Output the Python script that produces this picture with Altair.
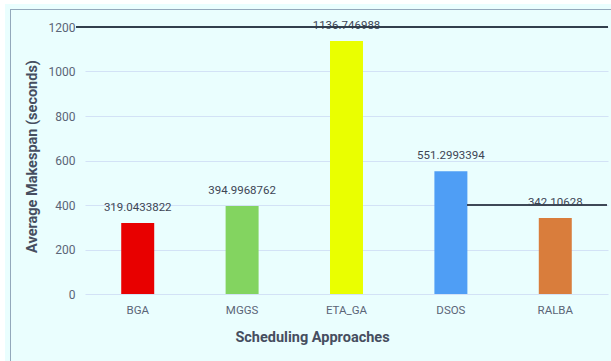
import altair as alt
import pandas as pd

# Average makespan per scheduling approach
approaches = ["BGA", "MGGS", "ETA_GA", "DSOS", "RALBA"]
makespan = [319.0433822, 394.9968762, 1136.746988, 551.2993394, 342.10628]
labels = ["319.0433822", "394.9968762", "1136.746988", "551.2993394", "342.10628"]
bar_colors = ["#e80000", "#83d460", "#eaff00", "#4f9ef5", "#d97d3c"]

y_ticks = [0, 200, 400, 600, 800, 1000, 1200]

FONT = "Roboto, sans-serif"

df = pd.DataFrame({"approach": approaches, "makespan": makespan, "label": labels})

x_enc = alt.X(
    "approach:N",
    sort=approaches,
    scale=alt.Scale(paddingInner=0.684, paddingOuter=0.347),
    axis=alt.Axis(
        title="Scheduling Approaches",
        labelAngle=0,
        labelFontSize=11.5,
        labelColor="#5b6577",
        labelPadding=10,
        ticks=False,
        domain=False,
        grid=False,
        titleFontSize=14.5,
        titleFontWeight="bold",
        titleColor="#464e60",
        titleX=227,
        titleY=43,
        titleBaseline="middle",
    ),
)
y_enc = alt.Y(
    "makespan:Q",
    scale=alt.Scale(domain=[0, 1200], nice=False),
    axis=alt.Axis(
        title="Average Makespan (seconds)",
        values=y_ticks,
        format="d",
        labelFontSize=12,
        labelColor="#5b6577",
        labelPadding=10,
        ticks=False,
        domain=False,
        gridColor="#d3e2f6",
        gridWidth=1,
        titleFontSize=14.5,
        titleFontWeight="bold",
        titleColor="#464e60",
        titleX=-53,
        titleY=129,
        titleBaseline="middle",
        titleAlign="center",
    ),
)

# White edge strips around the panel, then the panel frame
edge_top = alt.Chart(df).mark_rect(fill="white").encode(
    x=alt.value(-85), x2=alt.value(530), y=alt.value(-27), y2=alt.value(-23)
)
edge_left = alt.Chart(df).mark_rect(fill="white").encode(
    x=alt.value(-85), x2=alt.value(-80), y=alt.value(-27), y2=alt.value(340)
)
frame = alt.Chart(df).mark_rect(fill=None, stroke="#93a8bb", strokeWidth=1).encode(
    x=alt.value(-74.5), x2=alt.value(560), y=alt.value(-17.5), y2=alt.value(360)
)

bars = alt.Chart(df).mark_bar().encode(
    x=x_enc,
    y=y_enc,
    color=alt.Color("approach:N", sort=approaches,
                    scale=alt.Scale(domain=approaches, range=bar_colors), legend=None),
)

values = alt.Chart(df).mark_text(
    dy=-15, baseline="middle", fontSize=11.5, color="#3d4555", font=FONT
).encode(
    x=alt.X("approach:N", sort=approaches),
    y="makespan:Q",
    text="label:N",
)

top_line = alt.Chart(df).mark_rule(color="#2f3a48", strokeWidth=1.2).encode(
    y=alt.datum(1200), x=alt.value(-9), x2=alt.value(523)
)
mid_line = alt.Chart(df).mark_rule(color="#3a4452", strokeWidth=1.2).encode(
    y=alt.datum(400), x=alt.value(382), x2=alt.value(522)
)

chart = (
    alt.layer(bars, edge_top, edge_left, frame, values, top_line, mid_line)
    .properties(
        width=523,
        height=267,
        autosize=alt.AutoSizeParams(type="none"),
        padding={"left": 85, "top": 27, "right": 3, "bottom": 67},
        background="#eafefe",
    )
    .configure_view(stroke=None)
    .configure_axis(labelFont=FONT, titleFont=FONT)
)

chart.save("out.html", embed_options={"renderer": "svg", "actions": False})
